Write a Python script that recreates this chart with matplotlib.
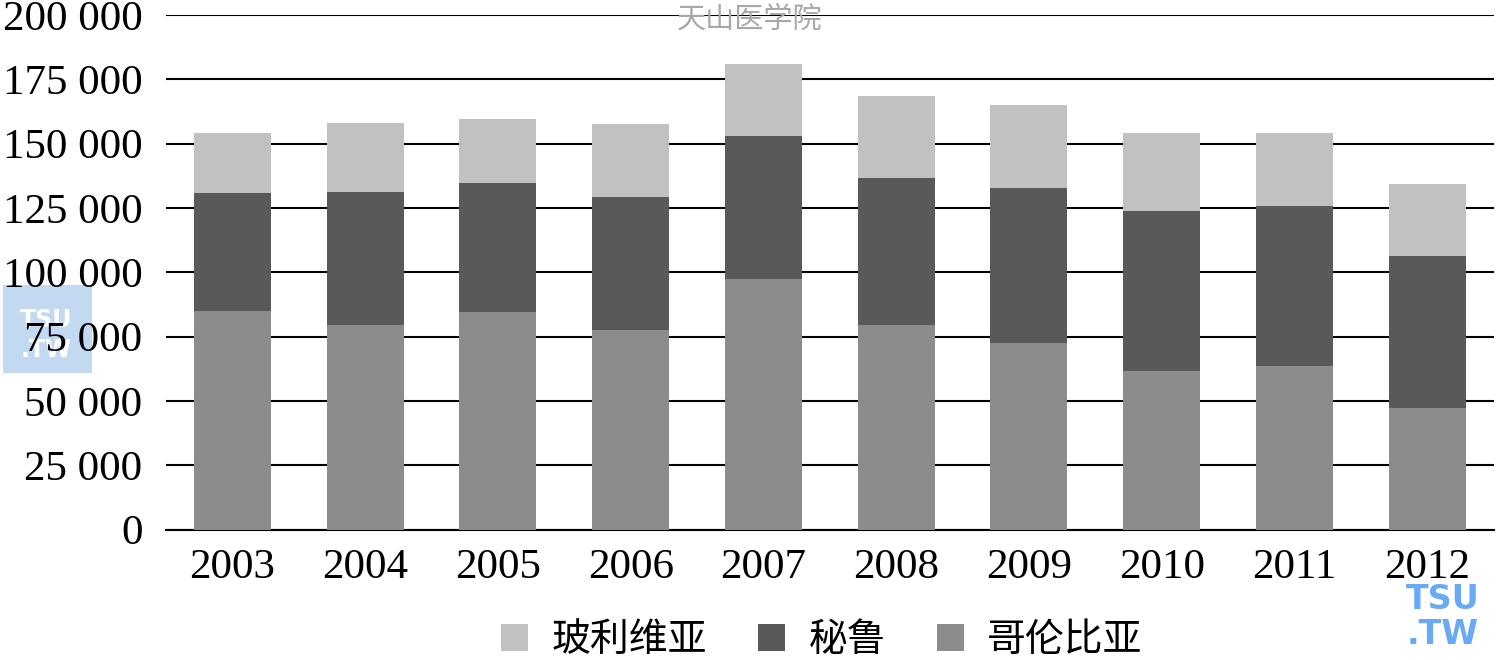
import matplotlib
matplotlib.use("Agg")
import matplotlib.pyplot as plt
import numpy as np
from matplotlib.patches import Rectangle
from matplotlib.ticker import FuncFormatter, MultipleLocator

years = ["2003", "2004", "2005", "2006", "2007", "2008", "2009", "2010", "2011", "2012"]
colombia = [84800, 79400, 84500, 77600, 97200, 79400, 72700, 61700, 63500, 47300]
peru = [46100, 51800, 50100, 51500, 55600, 57100, 60200, 62000, 62200, 59100]
bolivia = [23300, 26900, 25100, 28600, 28100, 32100, 32000, 30600, 28600, 28000]
series_names = ["玻利维亚", "秘鲁", "哥伦比亚"]

serif = ["Liberation Serif", "DejaVu Serif"]
cjk = ["Noto Sans CJK SC", "DejaVu Sans"]

fig = plt.figure(figsize=(15, 6.6), dpi=100)
ax = fig.add_axes([0.1107, 0.1977, 0.885, 0.7795])

x = np.arange(len(years))
col = np.array(colombia)
per = np.array(peru)
bol = np.array(bolivia)
w = 0.58

ax.set_axisbelow(True)
ax.grid(axis="y", color="black", linewidth=1.5)
b_col = ax.bar(x, col, w, color="#8c8c8c", zorder=3)
b_per = ax.bar(x, per, w, bottom=col, color="#595959", zorder=3)
b_bol = ax.bar(x, bol, w, bottom=col + per, color="#c1c1c1", zorder=3)

ax.set_xlim(-0.5, len(years) - 0.5)
ax.set_ylim(0, 200000)
ax.yaxis.set_major_locator(MultipleLocator(25000))
ax.yaxis.set_major_formatter(FuncFormatter(lambda v, p: f"{int(v):,}".replace(",", " ")))
ax.set_xticks(x)
ax.set_xticklabels(years)
for s in ["left", "right", "top"]:
    ax.spines[s].set_visible(False)
ax.spines["bottom"].set_linewidth(1.5)
ax.tick_params(axis="both", length=0, labelsize=31)
ax.tick_params(axis="y", pad=17)
ax.tick_params(axis="x", pad=14)
for lab in ax.get_xticklabels() + ax.get_yticklabels():
    lab.set_fontfamily(serif)

fig.legend([b_bol, b_per, b_col], series_names, loc="center",
            bbox_to_anchor=(0.548, 0.03), ncol=3, frameon=False,
            prop={"family": cjk, "size": 28}, handlelength=0.7,
            handleheight=0.7, handletextpad=0.6, columnspacing=1.3)

# watermarks
fig.text(0.5, 0.97, "天山医学院", ha="center", va="center", color="#a8a8a8",
         fontsize=21, family=["Noto Sans CJK SC"])
fig.patches.append(Rectangle((0.002, 0.435), 0.059, 0.133, transform=fig.transFigure,
                             facecolor="#b9d3f0", edgecolor="none", alpha=0.85, zorder=-2))
fig.text(0.031, 0.515, "TSU", ha="center", va="center", color="white",
         fontsize=17, fontweight="bold", family="DejaVu Sans", zorder=-1)
fig.text(0.031, 0.47, ".TW", ha="center", va="center", color="white",
         fontsize=17, fontweight="bold", family="DejaVu Sans", zorder=-1)
fig.text(0.962, 0.092, "TSU", ha="center", va="center", color="#6aaaf5",
         fontsize=24, fontweight="bold", family="DejaVu Sans")
fig.text(0.962, 0.038, ".TW", ha="center", va="center", color="#6aaaf5",
         fontsize=24, fontweight="bold", family="DejaVu Sans")

fig.savefig("out.png", dpi=100)
